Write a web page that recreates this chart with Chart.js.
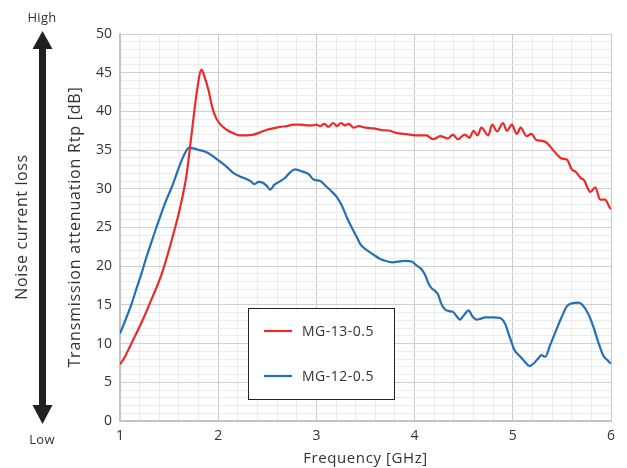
<!DOCTYPE html>
<html>
<head>
<meta charset="utf-8">
<script src="https://cdn.jsdelivr.net/npm/chart.js@4/dist/chart.umd.min.js"></script>
<style>
  html, body { margin: 0; padding: 0; background: #fff; }
  #wrap { width: 627px; height: 468px; position: relative; }
</style>
</head>
<body>
<div id="wrap"><canvas id="myChart" width="627" height="468"></canvas></div>
<script>
// MG-13-0.5 (red)
const redFreq = [1.00,1.05,1.10,1.15,1.20,1.25,1.29,1.34,1.39,1.44,1.49,1.54,1.59,1.64,1.68,1.73,1.78,1.83,1.86,1.90,1.94,1.98,2.03,2.09,2.15,2.22,2.29,2.36,2.43,2.49,2.56,2.63,2.70,2.76,2.83,2.90,2.96,3.00,3.04,3.08,3.12,3.17,3.21,3.25,3.29,3.33,3.38,3.43,3.50,3.58,3.66,3.75,3.82,3.89,3.95,4.05,4.12,4.19,4.26,4.34,4.39,4.44,4.51,4.56,4.60,4.64,4.68,4.75,4.79,4.84,4.90,4.94,4.99,5.04,5.08,5.14,5.19,5.24,5.30,5.35,5.41,5.46,5.50,5.55,5.60,5.64,5.70,5.72,5.79,5.84,5.89,5.94,5.99,6.00];
const redRtp  = [7.3,8.3,9.6,10.9,12.2,13.6,14.8,16.3,17.8,19.6,21.7,24.0,26.4,29.2,32.0,37.2,42.3,45.4,44.5,42.8,40.5,39.1,38.2,37.6,37.2,36.9,36.9,37.0,37.3,37.6,37.8,38.0,38.1,38.3,38.3,38.2,38.2,38.3,38.1,38.4,38.0,38.5,38.1,38.5,38.2,38.4,37.9,38.1,37.9,37.8,37.6,37.5,37.2,37.1,37.0,36.9,36.9,36.4,36.8,36.5,37.0,36.4,37.0,36.6,37.5,36.9,37.9,36.9,38.3,37.4,38.5,37.5,38.3,37.1,37.9,36.8,37.1,36.3,36.2,35.9,35.0,34.3,33.9,33.8,32.5,32.2,31.3,31.2,29.6,30.2,28.6,28.6,27.5,27.4];

// MG-12-0.5 (blue)
const blueFreq = [1.00,1.06,1.12,1.17,1.22,1.27,1.32,1.37,1.42,1.47,1.53,1.57,1.61,1.65,1.70,1.76,1.81,1.87,1.95,2.02,2.09,2.15,2.22,2.28,2.33,2.37,2.41,2.45,2.50,2.53,2.57,2.62,2.68,2.73,2.78,2.84,2.92,2.97,3.04,3.10,3.16,3.21,3.26,3.31,3.36,3.41,3.45,3.50,3.58,3.64,3.70,3.78,3.83,3.90,3.97,4.02,4.07,4.11,4.14,4.17,4.21,4.24,4.27,4.31,4.35,4.39,4.43,4.46,4.51,4.55,4.59,4.63,4.67,4.72,4.80,4.87,4.92,4.97,5.02,5.07,5.12,5.17,5.21,5.26,5.29,5.33,5.38,5.45,5.50,5.55,5.60,5.67,5.71,5.77,5.82,5.87,5.92,5.96,6.00];
const blueRtp  = [11.3,13.2,15.2,17.2,19.1,21.2,23.1,25.0,26.8,28.5,30.3,31.7,33.1,34.3,35.3,35.2,35.0,34.8,34.2,33.5,32.8,32.1,31.6,31.3,31.0,30.6,30.9,30.8,30.3,29.9,30.5,30.9,31.4,32.1,32.5,32.3,31.9,31.2,31.0,30.3,29.6,28.9,27.8,26.3,25.0,23.8,22.8,22.2,21.5,21.0,20.7,20.5,20.6,20.7,20.6,20.1,19.6,18.8,17.8,17.2,16.8,16.3,15.2,14.4,14.2,14.1,13.5,13.1,13.8,14.3,13.5,13.1,13.2,13.4,13.4,13.3,12.6,10.8,9.1,8.4,7.7,7.1,7.4,8.1,8.5,8.3,9.8,12.0,13.5,14.8,15.2,15.3,15.0,13.8,12.2,10.2,8.5,7.9,7.4];

const seriesNames = ["MG-13-0.5", "MG-12-0.5"];
const xTitle = "Frequency [GHz]";
const yTitle = "Transmission attenuation Rtp [dB]";
const sideTitle = "Noise current loss";

const font = '"Open Sans", "Noto Sans", sans-serif';
const textColor = "#333";

function toPoints(xs, ys) {
  return xs.map((x, i) => ({ x: x, y: ys[i] }));
}

function isStep(v, step) {
  const r = v / step;
  return Math.abs(r - Math.round(r)) < 1e-6;
}

// axis titles, side arrow and boxed legend
const extras = {
  id: "extras",
  afterDraw(chart) {
    const c = chart.ctx;
    const area = chart.chartArea;
    c.save();
    c.fillStyle = textColor;
    c.textAlign = "center";
    c.textBaseline = "middle";

    c.letterSpacing = "0.6px";
    c.font = "15px " + font;
    c.fillText(xTitle, (area.left + area.right) / 2, 459);

    c.save();
    c.translate(75, 227);
    c.rotate(-Math.PI / 2);
    c.letterSpacing = "0.8px";
    c.font = "16px " + font;
    c.fillText(yTitle, 0, 0);
    c.restore();

    c.save();
    c.translate(22, 227);
    c.rotate(-Math.PI / 2);
    c.letterSpacing = "0.6px";
    c.font = "16px " + font;
    c.fillText(sideTitle, 0, 0);
    c.restore();

    c.letterSpacing = "0.3px";
    c.font = "13px " + font;
    c.fillText("High", 42, 18);
    c.fillText("Low", 42, 440);

    // double arrow
    c.fillStyle = "#231f20";
    c.fillRect(39, 47, 7, 360);
    c.beginPath();
    c.moveTo(32.5, 49); c.lineTo(52.5, 49); c.lineTo(42.5, 31); c.closePath();
    c.fill();
    c.beginPath();
    c.moveTo(32.5, 405); c.lineTo(52.5, 405); c.lineTo(42.5, 424); c.closePath();
    c.fill();

    // legend box
    const bx = 248.5, by = 308.5, bw = 146, bh = 91;
    c.fillStyle = "#fff";
    c.fillRect(bx, by, bw, bh);
    c.strokeStyle = "#222";
    c.lineWidth = 1;
    c.strokeRect(bx, by, bw, bh);
    c.letterSpacing = "0.5px";
    c.font = "14px " + font;
    c.textAlign = "left";
    chart.data.datasets.forEach((ds, i) => {
      const ly = 331 + i * 45;
      c.strokeStyle = ds.borderColor;
      c.lineWidth = 2.2;
      c.beginPath();
      c.moveTo(264, ly);
      c.lineTo(292, ly);
      c.stroke();
      c.fillStyle = textColor;
      c.fillText(ds.label, 302, ly + 1);
    });
    c.restore();
  },
};

const ctx = document.getElementById("myChart");
const myChart = new Chart(ctx, {
  type: "line",
  data: {
    datasets: [
      {
        label: seriesNames[0],
        data: toPoints(redFreq, redRtp),
        borderColor: "#ec2a2c",
        borderWidth: 2.2,
        pointRadius: 0,
        cubicInterpolationMode: "monotone",
      },
      {
        label: seriesNames[1],
        data: toPoints(blueFreq, blueRtp),
        borderColor: "#2370b6",
        borderWidth: 2.2,
        pointRadius: 0,
        cubicInterpolationMode: "monotone",
      },
    ],
  },
  options: {
    responsive: false,
    animation: false,
    devicePixelRatio: 1,
    layout: { padding: { left: 0, right: 16, top: 34, bottom: 0 } },
    plugins: {
      legend: { display: false },
      tooltip: { enabled: false },
    },
    scales: {
      x: {
        type: "linear",
        min: 1,
        max: 6,
        afterFit: (scale) => { scale.height = 47; },
        ticks: {
          stepSize: 0.2,
          autoSkip: false,
          maxRotation: 0,
          padding: 7,
          color: textColor,
          font: { family: font, size: 14 },
          callback: (v) => (isStep(v, 1) ? String(Math.round(v)) : ""),
        },
        grid: {
          drawTicks: false,
          color: (c) => (c.tick && isStep(c.tick.value, 1) ? "#c9c9c9" : "#ececec"),
        },
        border: { color: "#c3c3c3", width: 2 },
      },
      y: {
        min: 0,
        max: 50,
        afterFit: (scale) => { scale.width = 120; },
        ticks: {
          stepSize: 1,
          autoSkip: false,
          padding: 8,
          color: textColor,
          font: { family: font, size: 14 },
          callback: (v) => (isStep(v, 5) ? String(Math.round(v)) : ""),
        },
        grid: {
          drawTicks: false,
          color: (c) => (c.tick && isStep(c.tick.value, 5) ? "#cfcfcf" : "#ececec"),
        },
        border: { color: "#c3c3c3", width: 2 },
      },
    },
  },
  plugins: [extras],
});
</script>
</body>
</html>
